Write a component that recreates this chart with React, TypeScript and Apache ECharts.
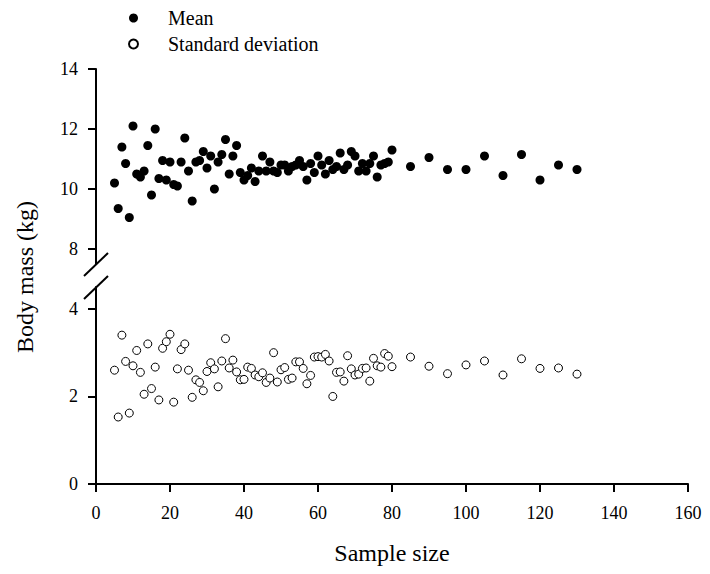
import React, { useEffect, useRef } from "react";
import * as echarts from "echarts";

const FONT = "'Liberation Serif', 'Times New Roman', 'DejaVu Serif', serif";

// sample sizes
const sampleSizesDense: number[] = [
  5, 6, 7, 8, 9, 10, 11, 12, 13, 14, 15, 16, 17, 18, 19, 20, 21, 22, 23, 24,
  25, 26, 27, 28, 29, 30, 31, 32, 33, 34, 35, 36, 37, 38, 39, 40, 41, 42, 43, 44,
  45, 46, 47, 48, 49, 50, 51, 52, 53, 54, 55, 56, 57, 58, 59, 60, 61, 62, 63, 64,
  65, 66, 67, 68, 69, 70, 71, 72, 73, 74, 75, 76, 77, 78, 79, 80,
];
const sampleSizesSparse: number[] = [85, 90, 95, 100, 105, 110, 115, 120, 125, 130];
const sampleSizes: number[] = [...sampleSizesDense, ...sampleSizesSparse];

const meanValues: number[] = [
  10.2, 9.35, 11.4, 10.85, 9.05, 12.1, 10.5, 10.4, 10.6, 11.45,
  9.8, 12.0, 10.35, 10.95, 10.3, 10.9, 10.15, 10.1, 10.9, 11.7,
  10.6, 9.6, 10.9, 10.95, 11.25, 10.7, 11.1, 10.0, 10.9, 11.15,
  11.65, 10.5, 11.1, 11.45, 10.55, 10.3, 10.45, 10.7, 10.25, 10.6,
  11.1, 10.6, 10.9, 10.6, 10.55, 10.8, 10.8, 10.6, 10.75, 10.8,
  10.95, 10.75, 10.3, 10.85, 10.55, 11.1, 10.8, 10.5, 10.95, 10.65,
  10.75, 11.2, 10.65, 10.8, 11.25, 11.1, 10.6, 10.85, 10.6, 10.85,
  11.1, 10.4, 10.8, 10.85, 10.9, 11.3,
  10.75, 11.05, 10.65, 10.65, 11.1, 10.45, 11.15, 10.3, 10.8, 10.65,
];

const sdValues: number[] = [
  2.6, 1.53, 3.4, 2.8, 1.62, 2.7, 3.05, 2.55, 2.05, 3.2,
  2.18, 2.67, 1.92, 3.1, 3.25, 3.42, 1.87, 2.63, 3.07, 3.2,
  2.6, 1.98, 2.38, 2.32, 2.13, 2.57, 2.77, 2.63, 2.22, 2.81,
  3.32, 2.65, 2.83, 2.56, 2.38, 2.39, 2.67, 2.64, 2.49, 2.45,
  2.54, 2.32, 2.42, 3.0, 2.33, 2.61, 2.66, 2.39, 2.42, 2.79,
  2.79, 2.64, 2.29, 2.48, 2.9, 2.91, 2.9, 2.96, 2.81, 2.0,
  2.55, 2.56, 2.35, 2.93, 2.63, 2.49, 2.51, 2.64, 2.65, 2.35,
  2.87, 2.7, 2.67, 2.98, 2.92, 2.68,
  2.9, 2.69, 2.52, 2.72, 2.81, 2.49, 2.86, 2.64, 2.65, 2.51,
];

const xTicks: number[] = [0, 20, 40, 60, 80, 100, 120, 140, 160];
const upperYTicks: number[] = [8, 10, 12, 14];
const lowerYTicks: number[] = [0, 2, 4];

const seriesNames = ["Mean", "Standard deviation"];
const xTitle = "Sample size";
const yTitle = "Body mass (kg)";

export default function App() {
  const ref = useRef<HTMLDivElement>(null);

  useEffect(() => {
    if (!ref.current) return;
    document.body.style.margin = "0";
    const chart = echarts.init(ref.current, undefined, { renderer: "svg" });

    const axisLine = { show: true, lineStyle: { color: "#000", width: 2 } };
    const axisTick = { show: true, length: 8, lineStyle: { color: "#000", width: 2 } };
    const labelStyle = { color: "#000", fontFamily: FONT, fontSize: 18 };

    const meanData = sampleSizes.map((n, i) => [n, meanValues[i]]);
    const sdData = sampleSizes.map((n, i) => [n, sdValues[i]]);

    const option: any = {
      animation: false,
      backgroundColor: "#fff",
      textStyle: { fontFamily: FONT },
      legend: {
        orient: "vertical",
        left: 123,
        top: 3,
        itemWidth: 9,
        itemHeight: 9,
        itemGap: 6,
        data: seriesNames,
        textStyle: {
          color: "#000",
          fontFamily: FONT,
          fontSize: 20,
          lineHeight: 20,
          padding: [0, 0, 0, 25],
        },
      },
      grid: [
        { left: 96, right: 22, top: 69, height: 195 },
        { left: 96, right: 22, top: 287, height: 197 },
      ],
      xAxis: [
        {
          gridIndex: 0,
          type: "value",
          min: 0,
          max: 160,
          interval: 20,
          show: false,
        },
        {
          gridIndex: 1,
          type: "value",
          min: 0,
          max: 160,
          interval: 20,
          axisLine,
          axisTick,
          splitLine: { show: false },
          axisLabel: { ...labelStyle, margin: 20, customValues: xTicks },
          name: xTitle,
          nameLocation: "middle",
          nameGap: 57,
          nameTextStyle: { color: "#000", fontFamily: FONT, fontSize: 24 },
        },
      ],
      yAxis: [
        {
          gridIndex: 0,
          type: "value",
          min: 7.5,
          max: 14,
          axisLine,
          axisTick: { ...axisTick, customValues: upperYTicks },
          splitLine: { show: false },
          axisLabel: { ...labelStyle, margin: 18, customValues: upperYTicks },
        },
        {
          gridIndex: 1,
          type: "value",
          min: 0,
          max: 4.5,
          axisLine,
          axisTick: { ...axisTick, customValues: lowerYTicks },
          splitLine: { show: false },
          axisLabel: { ...labelStyle, margin: 18, customValues: lowerYTicks },
        },
      ],
      series: [
        {
          name: seriesNames[0],
          type: "scatter",
          xAxisIndex: 0,
          yAxisIndex: 0,
          data: meanData,
          symbol: "circle",
          symbolSize: 9,
          itemStyle: { color: "#000", opacity: 1 },
        },
        {
          name: seriesNames[1],
          type: "scatter",
          xAxisIndex: 1,
          yAxisIndex: 1,
          data: sdData,
          symbol: "circle",
          symbolSize: 8,
          itemStyle: { color: "#fff", borderColor: "#000", borderWidth: 1, opacity: 1 },
        },
      ],
      graphic: [
        {
          type: "line",
          shape: { x1: 84, y1: 276, x2: 108, y2: 253 },
          style: { stroke: "#000", lineWidth: 2 },
        },
        {
          type: "line",
          shape: { x1: 84, y1: 299, x2: 108, y2: 276 },
          style: { stroke: "#000", lineWidth: 2 },
        },
        {
          type: "text",
          x: 25,
          y: 277,
          rotation: Math.PI / 2,
          style: {
            text: yTitle,
            fill: "#000",
            fontFamily: FONT,
            fontSize: 24,
            align: "center",
            verticalAlign: "middle",
          },
        },
      ],
    };

    chart.setOption(option);
    return () => chart.dispose();
  }, []);

  return <div ref={ref} style={{ width: 710, height: 574 }} />;
}
